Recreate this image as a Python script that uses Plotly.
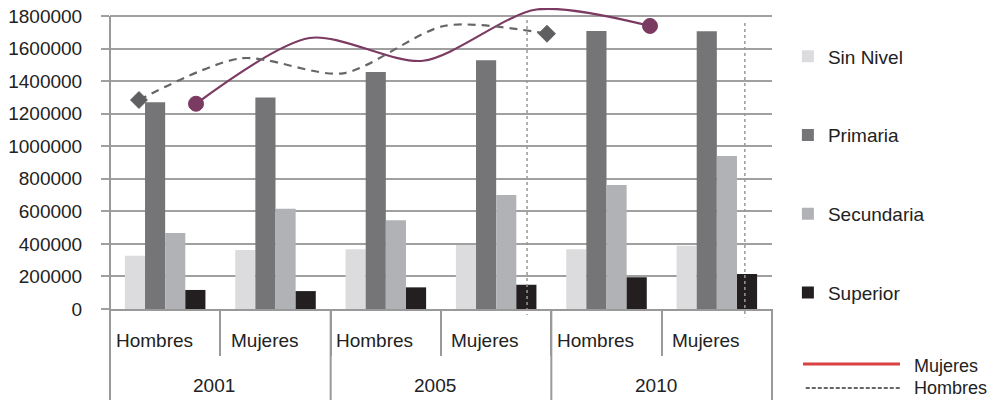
import plotly.graph_objects as go

anios = ['2001', '2001', '2005', '2005', '2010', '2010']
sexos = ['Hombres', 'Mujeres', 'Hombres', 'Mujeres', 'Hombres', 'Mujeres']
grupos = ['2001', '2005', '2010']

sin_nivel = [327000, 362000, 367000, 393000, 367000, 389000]
primaria = [1270000, 1300000, 1456000, 1528000, 1708000, 1706000]
secundaria = [467000, 616000, 545000, 700000, 762000, 940000]
superior = [117000, 110000, 133000, 149000, 195000, 215000]

# line series (drawn on their own hidden x axes)
mujeres_x = [0, 1, 2, 3, 4]
mujeres = [1261000, 1665000, 1525000, 1840000, 1739000]
hombres_x = [0, 1, 2, 3, 4]
hombres = [1284000, 1540000, 1448000, 1740000, 1691000]

fuente = 'Liberation Sans, Arial, sans-serif'
gris = '#999999'
ymax = 1800000
ytop = ymax * 301 / 293   # a bit of room above the top gridline for the curve

fig = go.Figure()

barras = [('Sin Nivel', sin_nivel, '#dcdcde'),
          ('Primaria', primaria, '#757578'),
          ('Secundaria', secundaria, '#b1b2b5'),
          ('Superior', superior, '#231f20')]
for nombre, vals, color in barras:
    fig.add_trace(go.Bar(x=[anios, sexos], y=vals, name=nombre,
                         marker_color=color, marker_line_width=0,
                         legendgroup=nombre))

fig.add_trace(go.Scatter(x=hombres_x, y=hombres, xaxis='x3', mode='lines+markers',
                         line=dict(color='#666666', width=2.2, dash='8px,6px',
                                   shape='spline', smoothing=0.8),
                         marker=dict(symbol='diamond', size=[13, 0, 0, 0, 13], color='#5f5f61',
                                     opacity=1, line=dict(color='#5f5f61', width=1)),
                         showlegend=False))
fig.add_trace(go.Scatter(x=mujeres_x, y=mujeres, xaxis='x2', mode='lines+markers',
                         line=dict(color='#7b3a62', width=2.2, shape='spline', smoothing=0.8),
                         marker=dict(symbol='circle', size=[15, 0, 0, 0, 15], color='#7b3a62',
                                     opacity=1, line=dict(color='#7b3a62', width=1)),
                         showlegend=False))

n = len(sexos)
shapes = [
    # left axis line, running down through the label area
    dict(type='line', xref='paper', yref='y', x0=0, x1=0, y0=ymax, y1=0,
         line=dict(color=gris, width=2)),
    dict(type='line', xref='paper', yref='paper', x0=0.63, x1=0.63, y0=0.960, y1=-0.020,
         line=dict(color=gris, width=1.5, dash='dot')),
    dict(type='line', xref='paper', yref='paper', x0=0.959, x1=0.959, y0=0.950, y1=-0.027,
         line=dict(color=gris, width=1.5, dash='dot')),
    # manual legend for lines
    dict(type='line', xref='paper', yref='paper', x0=1.0468, x1=1.1934, y0=-0.1827, y1=-0.1827,
         line=dict(color='#d9403f', width=3)),
    dict(type='line', xref='paper', yref='paper', x0=1.051, x1=1.1934, y0=-0.2625, y1=-0.2625,
         line=dict(color='#666666', width=2.2, dash='4px,2px')),
]
# year dividers down to the bottom edge
for k in range(len(grupos) + 1):
    shapes.append(dict(type='line', xref='paper', yref='paper', x0=k / len(grupos),
                       x1=k / len(grupos), y0=0, y1=-0.31, line=dict(color=gris, width=2)))

annotations = []
for i, s in enumerate(sexos):
    annotations.append(dict(text=s, xref='paper', yref='paper', x=(i + 0.5) / n, y=-0.103,
                            xshift=-11, showarrow=False, xanchor='center', yanchor='middle',
                            font=dict(size=19, color='#222222', family=fuente)))
for k, g in enumerate(grupos):
    annotations.append(dict(text=g, xref='paper', yref='paper', x=(k + 0.5) / len(grupos),
                            y=-0.2525, xshift=-6, showarrow=False, xanchor='center',
                            yanchor='middle',
                            font=dict(size=19, color='#222222', family=fuente)))
annotations += [
    dict(text='Mujeres', xref='paper', yref='paper', x=1.213, y=-0.1894, xanchor='left',
         yanchor='middle', showarrow=False, borderpad=0,
         font=dict(size=18, color='#222222', family=fuente)),
    dict(text='Hombres', xref='paper', yref='paper', x=1.213, y=-0.299, xanchor='left',
         yanchor='bottom', showarrow=False, borderpad=0,
         font=dict(size=18, color='#222222', family=fuente)),
]

fig.update_layout(
    width=988, height=392,
    margin=dict(l=102, r=224, t=0, b=91),
    paper_bgcolor='white', plot_bgcolor='white',
    font=dict(family=fuente, size=19, color='#222222'),
    barmode='group', bargap=0.27, bargroupgap=0,
    showlegend=True,
    legend=dict(x=1.024, xanchor='left', y=0.902, yanchor='top', traceorder='grouped',
                tracegroupgap=51, font=dict(size=19), bgcolor='rgba(0,0,0,0)'),
    xaxis=dict(type='multicategory', showgrid=False, showline=True, linecolor=gris,
               linewidth=2, ticks='outside', tickson='boundaries', ticklen=45,
               tickcolor=gris, tickwidth=2, showdividers=False, showticklabels=False,
               automargin=False),
    xaxis2=dict(overlaying='x', range=[-0.758, 5.075], visible=False),
    xaxis3=dict(overlaying='x', range=[-0.284, 6.206], visible=False),
    yaxis=dict(range=[0, ytop], tickvals=list(range(0, ymax + 1, 200000)), showgrid=True,
               gridcolor='#a0a0a0', gridwidth=1.5, showline=False,
               ticks='outside', ticklen=8, tickcolor='#a0a0a0', tickwidth=1.5,
               ticklabelstandoff=15, tickformat='d', zeroline=False,
               ticklabeloverflow='allow', tickfont=dict(size=19), automargin=False),
    shapes=shapes, annotations=annotations,
)

fig.write_html('out.html')
